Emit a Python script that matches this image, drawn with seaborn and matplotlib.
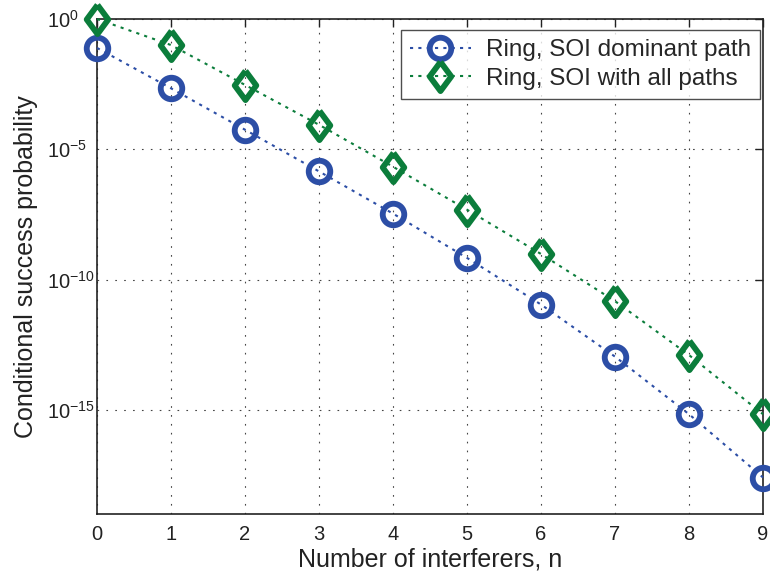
import numpy as np
import pandas as pd
import matplotlib
matplotlib.use("Agg")
import matplotlib.pyplot as plt
import seaborn as sns

n_vals = [0, 1, 2, 3, 4, 5, 6, 7, 8, 9]
dominant_exp = [-1.11, -2.66, -4.25, -5.85, -7.47, -9.17, -10.96, -12.96, -15.17, -17.6]
allpaths_exp = [0.0, -1.0, -2.53, -4.06, -5.67, -7.32, -9.02, -10.83, -12.9, -15.17]
series_names = ["Ring, SOI dominant path", "Ring, SOI with all paths"]
x_ticks = [0, 1, 2, 3, 4, 5, 6, 7, 8, 9]
y_ticks = [1e0, 1e-5, 1e-10, 1e-15]

df = pd.DataFrame({
    "n": n_vals * 2,
    "p": [10.0 ** e for e in dominant_exp] + [10.0 ** e for e in allpaths_exp],
    "series": [series_names[0]] * len(n_vals) + [series_names[1]] * len(n_vals),
})

sns.set_theme(style="white")
plt.rcParams['font.family'] = ['Liberation Sans', 'DejaVu Sans']
plt.rcParams['mathtext.fontset'] = 'custom'
plt.rcParams['mathtext.rm'] = 'Liberation Sans'
plt.rcParams['mathtext.it'] = 'Liberation Sans:italic'

fig = plt.figure(figsize=(7.7, 5.76), dpi=100)
ax = fig.add_axes([0.126, 0.1076, 0.865, 0.8594])

blue = "#2c4ea6"
green = "#0b7d3b"
diamond = [(0, 1), (0.74, 0), (0, -1), (-0.74, 0), (0, 1)]
dotted = (0, (1.5, 2.5))

sub0 = df[df.series == series_names[0]]
sub1 = df[df.series == series_names[1]]
sns.lineplot(data=sub0, x="n", y="p", ax=ax, color=blue, linestyle=dotted, linewidth=1.5,
             marker="o", markersize=15.5, markeredgewidth=4.2, markerfacecolor="none",
             markeredgecolor=blue, label=series_names[0], clip_on=False, zorder=5)
sns.lineplot(data=sub1, x="n", y="p", ax=ax, color=green, linestyle=dotted, linewidth=1.5,
             marker=diamond, markersize=21, markeredgewidth=4.2, markerfacecolor="none",
             markeredgecolor=green, label=series_names[1], clip_on=False, zorder=5)

ax.set_yscale("log")
ax.set_xlim(0, 9)
ax.set_ylim(1e-19, 1e0)
ax.set_xticks(x_ticks)
ax.set_xticklabels([str(t) for t in x_ticks])
ax.set_yticks(y_ticks)
ax.set_yticklabels([r"$\mathregular{10^{%d}}$" % int(round(np.log10(t))) for t in y_ticks])
ax.yaxis.set_minor_locator(matplotlib.ticker.NullLocator())
for lbl in ax.get_yticklabels():
    lbl.set_horizontalalignment("left")

ax.grid(True, which="major", linestyle=(0, (1.5, 6.5)), color="#444444", linewidth=0.8)
ax.tick_params(axis="both", which="major", direction="in", top=True, right=True,
               length=6, width=1, labelsize=14.5, colors="#222222")
ax.tick_params(axis="x", pad=8)
ax.tick_params(axis="y", pad=36)
for s in ax.spines.values():
    s.set_color("#222222")
    s.set_linewidth(1.2)

ax.set_xlabel("Number of interferers, n", fontsize=18, color="#222222", labelpad=2.5)
ax.set_ylabel("Conditional success probability", fontsize=18, color="#222222", labelpad=6.5)

leg = ax.legend(loc="upper right", bbox_to_anchor=(0.9955, 0.978), fontsize=17.5,
                frameon=True, fancybox=False, edgecolor="#222222", borderaxespad=0.0,
                handlelength=2.5, borderpad=0.38, labelspacing=0.28, handletextpad=0.62)
leg.get_frame().set_linewidth(1.0)
leg.set_zorder(10)

fig.savefig("out.png", dpi=100)
